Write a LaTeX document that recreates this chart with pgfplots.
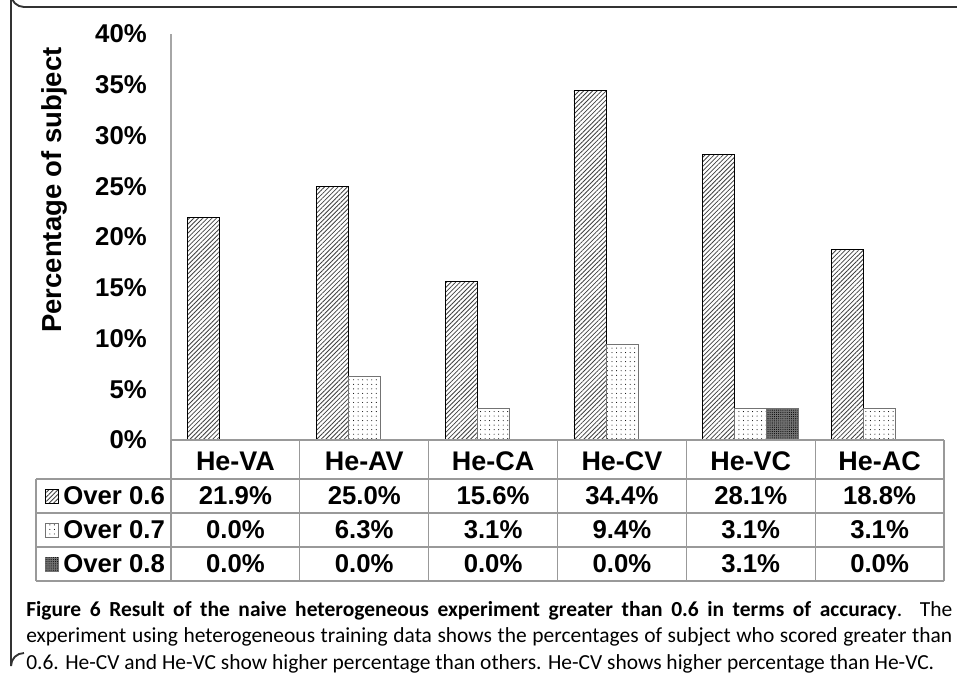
\documentclass[border=0pt]{standalone}
\usepackage{pgfplots}
\pgfplotsset{compat=1.18}
\usepackage{fontspec}
\setmainfont{Liberation Sans}
\newfontfamily\capfont{Carlito}
\usetikzlibrary{patterns.meta}
\tikzset{
 s1/.style={draw=black, line width=0.6pt, pattern={Lines[angle=45,distance=2.4pt,line width=0.6pt]}, pattern color=black!75},
 s2/.style={draw=black!55, line width=0.6pt, pattern={Dots[distance=3.4pt,radius=0.4pt]}, pattern color=black},
 s3/.style={draw=black!55, line width=0.6pt, fill=black!55, postaction={pattern={Dots[distance=1.6pt,radius=0.4pt]}, pattern color=black}},
}
\newcommand\bigf{\bfseries\fontsize{19.3}{19.3}\selectfont}
\begin{document}
\begin{tikzpicture}[x=0.75pt,y=-0.75pt]
\useasboundingbox (0,0) rectangle (957,679);
\coordinate (A) at (171,440);
% outer frame
\draw[line width=1.4pt, black!80] (957,7) -- (24,7) arc[start angle=90,end angle=180,radius=13] -- (11,666) arc[start angle=180,end angle=270,radius=13];
\begin{axis}[
 at={(A)}, anchor=south west,
 width=579.75pt, height=304.5pt, scale only axis,
 xmin=-0.5, xmax=5.5, ymin=0, ymax=40,
 ybar=0pt, bar width=24pt,
 axis lines*=left,
 x axis line style={draw=none},
 y axis line style={draw=black!35, line width=0.8pt},
 xtick=\empty,
 ytick={0,5,...,40},
 major tick length=0pt,
 /pgf/number format/assume math mode=true,
 yticklabel={\pgfmathprintnumber{\tick}\%},
 yticklabel style={font=\bigf, anchor=east, inner sep=0pt, xshift=-18pt},
 clip=false,
]
\addplot[s1] coordinates {(0,21.9) (1,25.0) (2,15.6) (3,34.4) (4,28.1) (5,18.8)};
\addplot[s2] coordinates {(0,0.0) (1,6.3) (2,3.1) (3,9.4) (4,3.1) (5,3.1)};
\addplot[s3] coordinates {(0,0.0) (1,0.0) (2,0.0) (3,0.0) (4,3.1) (5,0.0)};
\end{axis}
% y label
\node[rotate=90, font=\bfseries\fontsize{20.6}{20.6}\selectfont] at (54,190) {Percentage of subject};
% data table
\begin{scope}[draw=black!40, line width=0.8pt]
\draw (171,440) -- (944,440);
\foreach \y in {479,513,547,581} \draw (36,\y) -- (944,\y);
\draw (36,479) -- (36,581);
\foreach \i in {0,...,6} \draw ({171+128.833*\i},440) -- ({171+128.833*\i},581);
\end{scope}
\foreach \n [count=\i from 0] in {He-VA,He-AV,He-CA,He-CV,He-VC,He-AC}
 \node[font=\bfseries\fontsize{20.2}{20.2}\selectfont] at ({171+128.833*(\i+0.5)},461) {\n};
\foreach \n [count=\i from 0] in {21.9\%,25.0\%,15.6\%,34.4\%,28.1\%,18.8\%}
 \node[font=\bigf] at ({171+128.833*(\i+0.5)},496) {\n};
\foreach \n [count=\i from 0] in {0.0\%,6.3\%,3.1\%,9.4\%,3.1\%,3.1\%}
 \node[font=\bigf] at ({171+128.833*(\i+0.5)},530) {\n};
\foreach \n [count=\i from 0] in {0.0\%,0.0\%,0.0\%,0.0\%,3.1\%,0.0\%}
 \node[font=\bigf] at ({171+128.833*(\i+0.5)},564) {\n};
% legend keys
\path[s1] (45,489) rectangle (58,503);
\path[s2] (45,523) rectangle (58,537);
\path[s3] (45,557) rectangle (58,571);
\node[font=\bigf, anchor=west, inner sep=0pt] at (63,496) {Over 0.6};
\node[font=\bigf, anchor=west, inner sep=0pt] at (63,530) {Over 0.7};
\node[font=\bigf, anchor=west, inner sep=0pt] at (63,564) {Over 0.8};
% caption
\node[anchor=base west, inner sep=0pt, text width=694.5pt, align=justify, font=\capfont\fontsize{16.1}{20}\selectfont] at (26,616)
{\textbf{Figure 6 Result of the naive heterogeneous experiment greater than 0.6 in terms of accuracy}. The\linebreak
experiment using heterogeneous training data shows the percentages of subject who scored greater than\linebreak
0.6. He-CV and He-VC show higher percentage than others. He-CV shows higher percentage than He-VC.};
\end{tikzpicture}
\end{document}
